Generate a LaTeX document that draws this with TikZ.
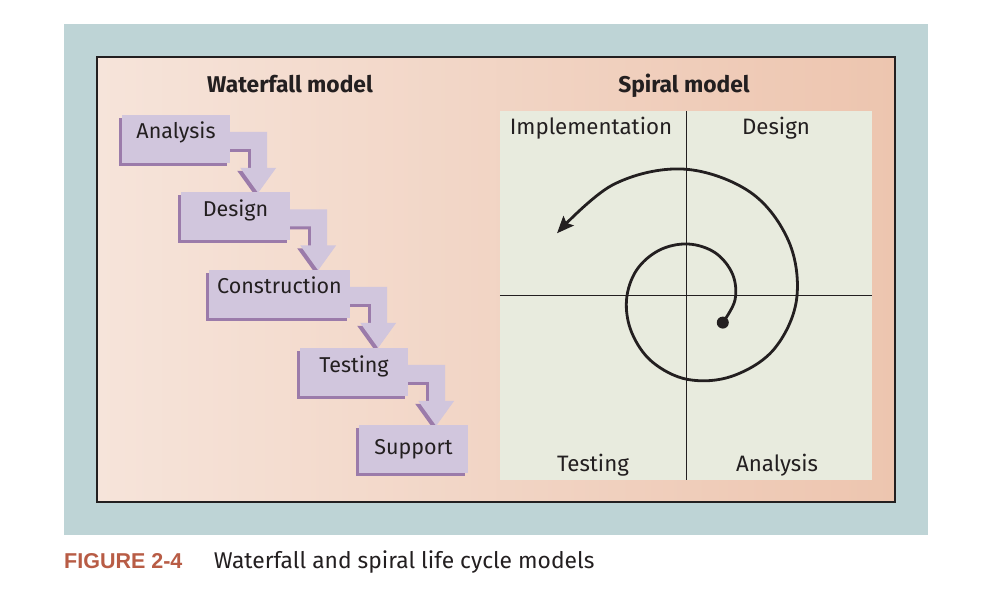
\documentclass[tikz,border=0pt]{standalone}
\usepackage{fontspec}
\setmainfont{Fira Sans}
\newfontfamily\figfont{Liberation Sans}
\usetikzlibrary{positioning,arrows.meta,shadows}
\definecolor{tealbg}{HTML}{BED4D6}
\definecolor{frameL}{HTML}{F6E4DA}
\definecolor{frameR}{HTML}{EDC5AF}
\definecolor{quadbg}{HTML}{E8EBDE}
\definecolor{stagefill}{HTML}{D1C6DD}
\definecolor{stageshade}{HTML}{9B7BAA}
\definecolor{inkdark}{HTML}{231F20}
\definecolor{figred}{HTML}{B85C45}
\pgfdeclarelayer{bg}
\pgfdeclarelayer{mid}
\pgfsetlayers{bg,mid,main}
\tikzset{
  stage/.style={rectangle, fill=stagefill, minimum width=108pt, minimum height=48pt, inner sep=0pt,
    drop shadow={shadow xshift=-3pt, shadow yshift=-3pt, fill=stageshade, opacity=1},
    font=\fontsize{21.5}{24}\selectfont, text=inkdark},
  stagetxt/.style={font=\fontsize{21.5}{24}\selectfont, text=inkdark, inner sep=0pt, anchor=base},
  quad/.style={rectangle, fill=quadbg, inner sep=0pt},
  axis/.style={draw=inkdark, line width=0.9pt},
  qlbl/.style={font=\fontsize{22.3}{26}\selectfont, text=inkdark, inner sep=0pt, anchor=base},
  ttl/.style={font=\bfseries\fontsize{22.8}{26}\selectfont, text=inkdark, inner sep=0pt, anchor=base},
  spiral/.style={draw=inkdark, line width=2.8pt, -{Stealth[length=17pt,width=14pt,inset=3pt]}},
  dot/.style={circle, fill=inkdark, minimum size=12pt, inner sep=0pt},
  wfarrow/.pic={
    \foreach \dx/\col in {-3/stageshade, 0/stagefill}
      \fill[\col, shift={(\dx,-\dx)}] (0,17) -- (37,17) -- (37,53) -- (46,53) -- (28,78)
        -- (10,53) -- (21,53) -- (21,34) -- (0,34) -- cycle;
  }
}

\begin{document}
\begin{tikzpicture}[x=1pt, y=-1pt]
  \begin{pgfonlayer}{bg}
    \path[fill=white, use as bounding box] (0,0) rectangle (989,591);
    \fill[tealbg] (64,24) rectangle (928,535);
    \shade[left color=frameL, right color=frameR] (97,57) rectangle (895,502);
    \draw[inkdark, line width=1.5pt] (97,57) rectangle (895,502);
  \end{pgfonlayer}

  % waterfall side
  \node[ttl] (wtitle) at (290,93) {Waterfall model};
  \node[stage] (ana) at (176,139) {};
  \node[stage, minimum width=109pt] (des) at (235.5,216.5) {};
  \node[stage, minimum width=141pt] (con) at (279.5,294) {};
  \node[stage] (tes) at (354,372) {};
  \node[stage, minimum width=109pt] (sup) at (413.5,449) {Support};
  \foreach \n/\t in {ana/Analysis, des/Design, con/Construction, tes/Testing}
    \node[stagetxt] (\n-t) at (\n.center) {\t};
  \begin{pgfonlayer}{mid}
    \foreach \n in {ana,des,con,tes}
      \pic at (\n.north east) {wfarrow};
  \end{pgfonlayer}

  % spiral side
  \node[ttl] (stitle) at (684,93) {Spiral model};
  \node[quad, minimum width=372pt, minimum height=369pt] (sp) at (686,295.5) {};
  \draw[axis] (sp.north) -- (sp.south);
  \draw[axis] (sp.west) -- (sp.east);
  \node[qlbl] (impl) at (591,135) {Implementation};
  \node[qlbl] (desq) at (776,135) {Design};
  \node[qlbl] (testq) at (593,471) {Testing};
  \node[qlbl] (anaq) at (777,471) {Analysis};
  \begin{scope}[shift={(688,300)}, yscale=-1]
    \node[dot] (start) at (-33:41.5) {};
    \draw[spiral] plot[smooth, tension=0.6] coordinates {
      (start.center) (0:47) (30:51.5) (60:54.5) (90:56) (120:57.5) (150:59.5)
      (180:61.5) (210:65) (240:71.5) (270:79.5) (300:88) (330:99) (360:108.5)
      (390:116.5) (420:124.5) (452:131) (483:137.5) (513:147)};
  \end{scope}

  % caption
  \node[font=\figfont\bfseries\fontsize{21.5}{24}\selectfont, text=figred, inner sep=0pt, anchor=base west]
    (fig) at (64,568) {FIGURE 2-4};
  \node[font=\fontsize{22.8}{26}\selectfont, text=inkdark, inner sep=0pt, anchor=base west]
    (cap) at ([xshift=31pt]fig.base east) {Waterfall and spiral life cycle models};
\end{tikzpicture}
\end{document}
